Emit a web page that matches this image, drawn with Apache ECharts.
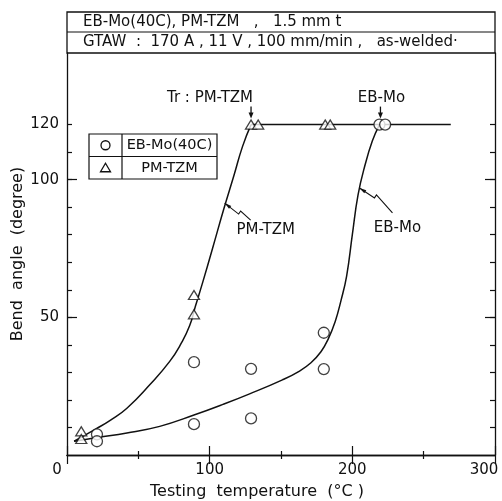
<!DOCTYPE html>
<html>
<head>
<meta charset="utf-8">
<script src="https://cdn.jsdelivr.net/npm/echarts@6/dist/echarts.min.js"></script>
<style>
  html, body { margin: 0; padding: 0; background: #fff; }
  #chart { width: 502px; height: 501px; }
</style>
</head>
<body>
<div id="chart"></div>
<script>
// Measured points: EB-Mo(40C) (circles) and PM-TZM (triangles)
const ebTemp  = [21, 21, 89, 89, 129, 129, 180, 180, 219, 223];
const ebAngle = [7.5, 5, 33.7, 11.2, 31.3, 13.3, 44.4, 31.2, 120, 120];
const tzmTemp  = [10, 10, 89, 89, 129, 134, 181, 184.5];
const tzmAngle = [8.6, 5.8, 58.1, 51.1, 120, 120, 120, 120];

// Hand-drawn trend curves
const ebCurveTemp  = [5, 20, 42, 65, 89, 110, 128, 151, 163, 171, 178, 183, 188, 192, 196, 200, 204, 209, 214, 219];
const ebCurveAngle = [5, 6.3, 8, 10.4, 14.5, 18.5, 22.2, 27.3, 30.5, 33.5, 37.5, 42, 48.5, 56, 65, 80, 94.5, 105.5, 114, 120];
const tzmCurveTemp  = [5, 20, 30, 42, 58, 72, 80, 86, 90, 95, 102, 110, 117, 123, 129];
const tzmCurveAngle = [5, 9.4, 12.5, 17, 25.5, 34, 40.5, 47, 54, 62.5, 75, 89.5, 101.5, 112, 120];
// Upper plateau (fully bent, 120°)
const plateauTemp  = [129, 269];
const plateauAngle = [120, 120];

// Axis ticks and labels
const xLabels = [0, 100, 200, 300];
const yTicks = [10, 20, 30, 40, 50, 60, 70, 80, 90, 100, 110, 120];
const yMajorTicks = [50, 100];
const yLabels = [50, 100, 120];

const headerLine1 = 'EB-Mo(40C), PM-TZM   ,   1.5 mm t';
const headerLine2 = 'GTAW  :  170 A , 11 V , 100 mm/min ,   as-welded·';
const legendNames = ['EB-Mo(40C)', 'PM-TZM'];

const FONT = 'DejaVu Sans';
const INK = '#111';

function zip(a, b) { return a.map((v, i) => [v, b[i]]); }

const chart = echarts.init(document.getElementById('chart'), null, { renderer: 'canvas' });

const GRID = { left: 67, right: 7, top: 53, bottom: 46, containLabel: false, outerBoundsMode: 'none' };

const yBase = {
  type: 'value', min: 0, max: 146,
  splitLine: { show: false }
};

chart.setOption({
  animation: false,
  backgroundColor: '#fff',
  grid: GRID,
  xAxis: [
    {
      type: 'value', position: 'bottom', min: 0, max: 300, interval: 100,
      axisLine: { show: true, lineStyle: { color: INK, width: 1.3 } },
      axisTick: { show: true, inside: true, length: 9, lineStyle: { color: INK, width: 1.2 } },
      minorTick: { show: true, splitNumber: 2, length: 4, lineStyle: { color: INK, width: 1.2 } },
      splitLine: { show: false },
      axisLabel: {
        color: INK, fontFamily: FONT, fontSize: 15, margin: 8,
        customValues: xLabels,
        formatter: v => v === 0 ? '{l|0}' : (v === 300 ? '{r|300}' : String(v)),
        rich: {
          l: { fontFamily: FONT, fontSize: 15, color: INK, padding: [0, 20, 0, 0] },
          r: { fontFamily: FONT, fontSize: 15, color: INK, padding: [0, 22, 0, 0] }
        }
      },
      name: 'Testing  temperature  (°C )',
      nameLocation: 'middle', nameGap: 29, nameMoveOverlap: false,
      nameTextStyle: { color: INK, fontFamily: FONT, fontSize: 16, padding: [0, 48, 0, 0] }
    },
    {
      type: 'value', position: 'top', min: 0, max: 300, interval: 100,
      axisLine: { show: true, lineStyle: { color: INK, width: 1.3 } },
      axisTick: { show: true, inside: true, length: 9, lineStyle: { color: INK, width: 1.2 } },
      minorTick: { show: true, splitNumber: 2, length: 4, lineStyle: { color: INK, width: 1.2 } },
      splitLine: { show: false },
      axisLabel: { show: false }
    }
  ],
  yAxis: [
    Object.assign({}, yBase, {
      position: 'left',
      axisLine: { show: true, lineStyle: { color: INK, width: 1.3 } },
      axisTick: { show: true, inside: true, length: 5, customValues: yTicks, lineStyle: { color: INK, width: 1.2 } },
      axisLabel: { color: INK, fontFamily: FONT, fontSize: 15, margin: 8, customValues: yLabels },
      name: 'Bend  angle  (degree)',
      nameLocation: 'middle', nameGap: 41, nameMoveOverlap: false,
      nameTextStyle: { color: INK, fontFamily: FONT, fontSize: 16 }
    }),
    Object.assign({}, yBase, {
      position: 'left',
      axisLine: { show: false },
      axisTick: { show: true, inside: true, length: 10, customValues: yMajorTicks, lineStyle: { color: INK, width: 1.2 } },
      axisLabel: { show: false }
    }),
    Object.assign({}, yBase, {
      position: 'right',
      axisLine: { show: true, lineStyle: { color: INK, width: 1.3 } },
      axisTick: { show: true, inside: true, length: 5, customValues: yTicks, lineStyle: { color: INK, width: 1.2 } },
      axisLabel: { show: false }
    }),
    Object.assign({}, yBase, {
      position: 'right',
      axisLine: { show: false },
      axisTick: { show: true, inside: true, length: 10, customValues: yMajorTicks, lineStyle: { color: INK, width: 1.2 } },
      axisLabel: { show: false }
    })
  ],
  series: [
    {
      name: 'EB-Mo curve', type: 'line', data: zip(ebCurveTemp, ebCurveAngle),
      smooth: 0.45, showSymbol: false, z: 2,
      lineStyle: { color: INK, width: 1.5 }
    },
    {
      name: 'PM-TZM curve', type: 'line', data: zip(tzmCurveTemp, tzmCurveAngle),
      smooth: 0.5, showSymbol: false, z: 2,
      lineStyle: { color: INK, width: 1.5 }
    },
    {
      name: 'Plateau', type: 'line', data: zip(plateauTemp, plateauAngle),
      smooth: false, showSymbol: false, z: 2,
      lineStyle: { color: INK, width: 1.5 }
    },
    {
      name: legendNames[0], type: 'scatter', data: zip(ebTemp, ebAngle),
      symbol: 'circle', symbolSize: 11, z: 5,
      itemStyle: { color: '#fff', borderColor: INK, borderWidth: 1.3 }
    },
    {
      name: legendNames[1], type: 'scatter', data: zip(tzmTemp, tzmAngle),
      symbol: 'triangle', symbolSize: [11, 9], z: 5,
      itemStyle: { color: '#fff', borderColor: INK, borderWidth: 1.3 }
    }
  ]
});

// Annotations placed from data coordinates
function px(t, a) { return chart.convertToPixel({ xAxisIndex: 0, yAxisIndex: 0 }, [t, a]); }

function downArrow(x, yTop, yTip) {
  return [
    { type: 'line', shape: { x1: x, y1: yTop, x2: x, y2: yTip - 4 }, style: { stroke: INK, lineWidth: 1.3 }, z: 10 },
    { type: 'polygon', shape: { points: [[x - 2.5, yTip - 6], [x + 2.5, yTip - 6], [x, yTip]] }, style: { fill: INK }, z: 10 }
  ];
}

function leader(anchor, pts) {
  const abs = pts.map(p => [anchor[0] + p[0], anchor[1] + p[1]]);
  const a0 = abs[0], a1 = abs[1];
  const dx = a1[0] - a0[0], dy = a1[1] - a0[1];
  const len = Math.hypot(dx, dy), ux = dx / len, uy = dy / len;
  const hx = a0[0] + ux * 7, hy = a0[1] + uy * 7;
  return [
    { type: 'polyline', shape: { points: abs }, style: { stroke: INK, lineWidth: 1.1, fill: null }, z: 10 },
    { type: 'polygon', shape: { points: [a0, [hx - uy * 1.8, hy + ux * 1.8], [hx + uy * 1.8, hy - ux * 1.8]] }, style: { fill: INK }, z: 10 }
  ];
}

const g = [];
const plotL = GRID.left, plotR = 502 - GRID.right, plotT = GRID.top;

// Header boxes
g.push({ type: 'rect', shape: { x: plotL, y: 12, width: plotR - plotL, height: plotT - 12 }, style: { fill: null, stroke: INK, lineWidth: 1.3 }, z: 10 });
g.push({ type: 'line', shape: { x1: plotL, y1: 32, x2: plotR, y2: 32 }, style: { stroke: INK, lineWidth: 1.2 }, z: 10 });
g.push({ type: 'text', x: 83, y: 22, style: { text: headerLine1, font: '15px ' + FONT, fill: INK, verticalAlign: 'middle' }, z: 10 });
g.push({ type: 'text', x: 83, y: 42.5, style: { text: headerLine2, font: '15px ' + FONT, fill: INK, verticalAlign: 'middle' }, z: 10 });

// Legend table
const lg = { x: 89, y: 134, w: 128, h: 45, div: 122 };
g.push({ type: 'rect', shape: { x: lg.x, y: lg.y, width: lg.w, height: lg.h }, style: { fill: '#fff', stroke: INK, lineWidth: 1.2 }, z: 10 });
g.push({ type: 'line', shape: { x1: lg.x, y1: lg.y + lg.h / 2, x2: lg.x + lg.w, y2: lg.y + lg.h / 2 }, style: { stroke: INK, lineWidth: 1.2 }, z: 10 });
g.push({ type: 'line', shape: { x1: lg.div, y1: lg.y, x2: lg.div, y2: lg.y + lg.h }, style: { stroke: INK, lineWidth: 1.2 }, z: 10 });
g.push({ type: 'circle', shape: { cx: (lg.x + lg.div) / 2, cy: lg.y + lg.h / 4, r: 4.5 }, style: { fill: '#fff', stroke: INK, lineWidth: 1.3 }, z: 11 });
const tcx = (lg.x + lg.div) / 2, tcy = lg.y + lg.h * 3 / 4;
g.push({ type: 'polygon', shape: { points: [[tcx, tcy - 4.5], [tcx + 5, tcy + 4], [tcx - 5, tcy + 4]] }, style: { fill: '#fff', stroke: INK, lineWidth: 1.3 }, z: 11 });
g.push({ type: 'text', x: (lg.div + lg.x + lg.w) / 2, y: lg.y + lg.h / 4, style: { text: legendNames[0], font: '14.5px ' + FONT, fill: INK, align: 'center', verticalAlign: 'middle' }, z: 11 });
g.push({ type: 'text', x: (lg.div + lg.x + lg.w) / 2, y: lg.y + lg.h * 3 / 4, style: { text: legendNames[1], font: '14.5px ' + FONT, fill: INK, align: 'center', verticalAlign: 'middle' }, z: 11 });

// Transition-temperature arrows
const trTzm = px(tzmTemp[4], tzmAngle[4]);
const trEb = px(ebTemp[8], ebAngle[8]);
downArrow(trTzm[0], trTzm[1] - 18, trTzm[1] - 6).forEach(e => g.push(e));
downArrow(trEb[0] + 1, trEb[1] - 18, trEb[1] - 6).forEach(e => g.push(e));
g.push({ type: 'text', x: trTzm[0] + 2, y: trTzm[1] - 26, style: { text: 'Tr : PM-TZM', font: '15px ' + FONT, fill: INK, align: 'right', verticalAlign: 'middle' }, z: 10 });
g.push({ type: 'text', x: trEb[0] + 2, y: trEb[1] - 26, style: { text: 'EB-Mo', font: '15px ' + FONT, fill: INK, align: 'center', verticalAlign: 'middle' }, z: 10 });

// Curve callouts
const tzmAnchor = px(110.5, 91.5);
const ebAnchor = px(205, 97);
leader(tzmAnchor, [[0, 0], [14, 11], [16, 8], [26, 17]]).forEach(e => g.push(e));
leader(ebAnchor, [[0, 0], [15, 10], [17, 7], [33, 25]]).forEach(e => g.push(e));
g.push({ type: 'text', x: tzmAnchor[0] + 41, y: tzmAnchor[1] + 27, style: { text: 'PM-TZM', font: '15px ' + FONT, fill: INK, align: 'center', verticalAlign: 'middle' }, z: 10 });
g.push({ type: 'text', x: ebAnchor[0] + 38, y: ebAnchor[1] + 40, style: { text: 'EB-Mo', font: '15px ' + FONT, fill: INK, align: 'center', verticalAlign: 'middle' }, z: 10 });

chart.setOption({ graphic: g });
</script>
</body>
</html>
